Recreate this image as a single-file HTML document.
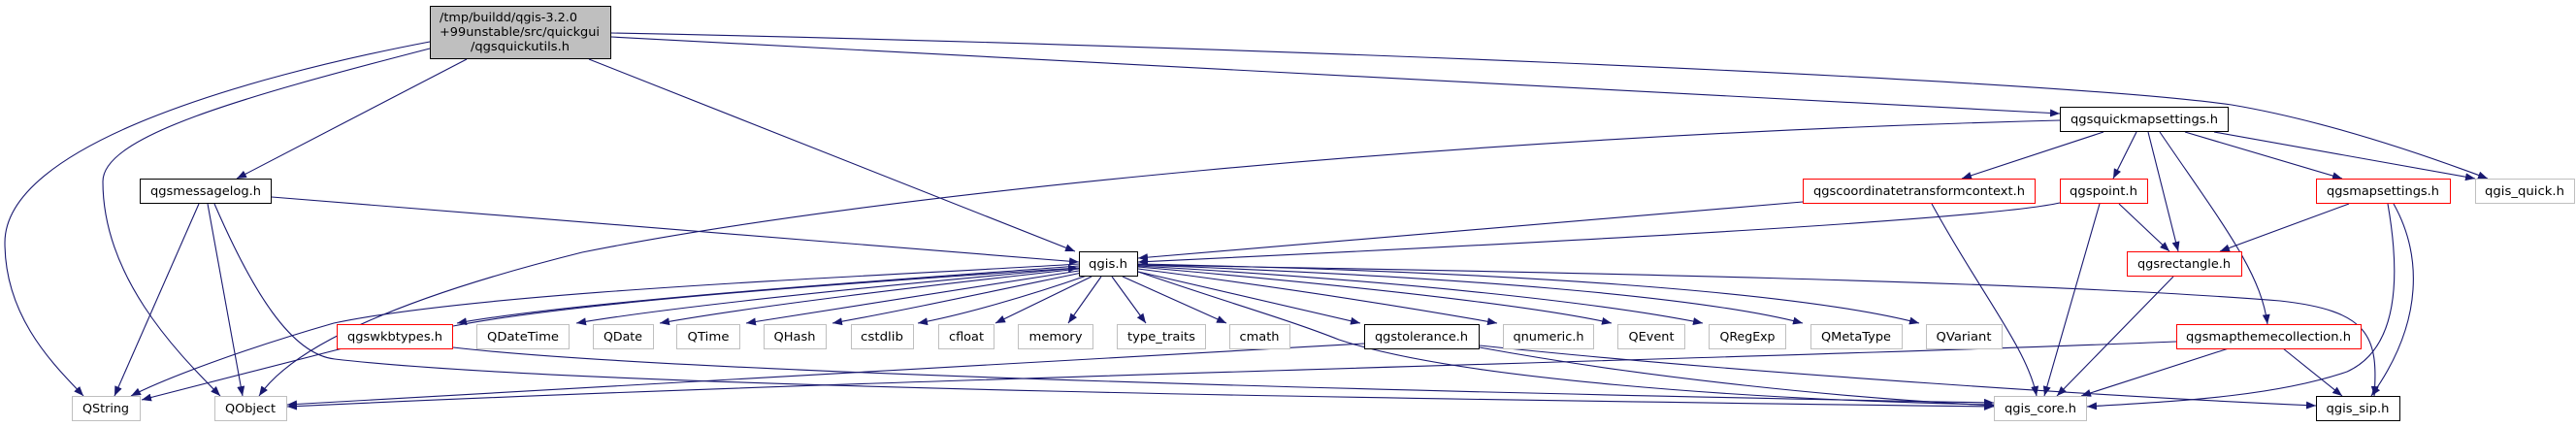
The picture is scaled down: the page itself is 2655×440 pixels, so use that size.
<!DOCTYPE html>
<html><head><meta charset="utf-8"><style>
html,body{margin:0;padding:0;background:#fff;width:2655px;height:440px;overflow:hidden}
svg text{font-family:"DejaVu Sans","Liberation Sans",sans-serif;font-size:12px;fill:#000}
</style></head><body>
<svg width="2655" height="440" viewBox="0 0 2655 440" xmlns="http://www.w3.org/2000/svg">
<defs><marker id="a" markerUnits="userSpaceOnUse" markerWidth="11" markerHeight="8" refX="10" refY="4" orient="auto"><path d="M0,0 L10,4 L0,8 z" fill="#191970"/></marker></defs>
<g fill="none" stroke="#191970" stroke-width="1.1" marker-end="url(#a)">
<!-- top node -->
<path d="M443,43 C250,80 5,150 5,250 C5,330 60,380 86,408"/>
<path d="M443,50 C250,100 106,140 106,187 C106,290 190,370 227,408"/>
<path d="M481,61 L244,184"/>
<path d="M607,61 L1108,259"/>
<path d="M630,38 L2123,117"/>
<path d="M630,34 C1200,45 2100,80 2300,108 C2400,125 2500,160 2564,184"/>
<!-- messagelog -->
<path d="M280,203 L1112,270"/>
<path d="M205,210 L118,408"/>
<path d="M214,210 L250,408"/>
<path d="M221,210 C260,300 300,365 345,370 C600,400 1500,412 2055,419"/>
<!-- quickmapsettings -->
<path d="M2123,124 C1500,140 900,200 600,260 C400,310 300,360 267,408"/>
<path d="M2168,136 L2022,184"/>
<path d="M2202,136 L2178,184"/>
<path d="M2214,136 L2245,259"/>
<path d="M2226,136 C2290,230 2330,280 2337,334"/>
<path d="M2252,136 L2414,184"/>
<path d="M2282,136 L2551,184"/>
<!-- coordctx -->
<path d="M1858,208 L1173,266"/>
<path d="M1991,210 C2040,300 2090,360 2099,408"/>
<!-- qgspoint -->
<path d="M2123,209 C2050,225 1700,245 1173,270"/>
<path d="M2184,210 L2236,259"/>
<path d="M2164,210 L2107,408"/>
<!-- qgsmapsettings -->
<path d="M2421,210 L2288,259"/>
<path d="M2461,210 C2475,290 2470,360 2419,383 C2340,410 2230,414 2151,419"/>
<path d="M2467,210 C2495,260 2500,330 2444,408"/>
<!-- rectangle -->
<path d="M2240,285 L2120,408"/>
<!-- mapthemecollection -->
<path d="M2243,352 C1800,370 900,390 296,419"/>
<path d="M2297,359 L2145,408"/>
<path d="M2353,359 L2414,408"/>
<!-- qgis.h -->
<path d="M1112,272 C900,285 500,300 344,333 C250,360 170,390 135,408"/>
<path d="M1112,274 C900,290 600,310 471,333"/>
<path d="M467,336 C600,310 900,290 1111,276"/>
<path d="M1112,276 C900,295 700,315 594,333"/>
<path d="M1112,277 C950,295 780,315 680,333"/>
<path d="M1112,279 C980,300 850,320 769,333"/>
<path d="M1115,281 C1000,305 920,322 858,333"/>
<path d="M1120,284 C1060,305 990,325 946,333"/>
<path d="M1125,285 L1026,333"/>
<path d="M1135,285 L1101,333"/>
<path d="M1146,285 L1181,333"/>
<path d="M1157,285 L1264,333"/>
<path d="M1173,280 L1402,333"/>
<path d="M1173,277 C1350,300 1470,320 1543,333"/>
<path d="M1173,275 C1400,295 1580,315 1661,333"/>
<path d="M1173,274 C1450,290 1650,312 1755,333"/>
<path d="M1173,273 C1500,285 1750,305 1858,333"/>
<path d="M1173,272 C1550,280 1850,300 1978,333"/>
<path d="M1173,280 C1260,310 1330,330 1380,350 C1500,390 1800,412 2055,417"/>
<path d="M1173,273 C1600,280 2100,290 2350,310 C2440,320 2452,345 2447,408"/>
<!-- wkbtypes -->
<path d="M353,359 L146,412"/>
<path d="M467,358 C700,385 1500,405 2055,415"/>
<!-- tolerance -->
<path d="M1406,354 C1000,375 600,400 296,417"/>
<path d="M1525,358 C1700,390 1900,410 2055,418"/>
<path d="M1525,356 C1800,385 2200,410 2387,418"/>
</g>
<g stroke-width="1">
<rect x="443.5" y="6.5" width="186" height="54" fill="#bfbfbf" stroke="#000"/>
<rect x="144.5" y="184.5" width="135" height="25" fill="#fff" stroke="#000"/>
<rect x="1858.5" y="184.5" width="239" height="25" fill="#fff" stroke="#f00"/>
<rect x="2123.5" y="184.5" width="90" height="25" fill="#fff" stroke="#f00"/>
<rect x="2387.5" y="184.5" width="138" height="25" fill="#fff" stroke="#f00"/>
<rect x="2551.5" y="184.5" width="102" height="25" fill="#fff" stroke="#bfbfbf"/>
<rect x="2123.5" y="110.5" width="173" height="25" fill="#fff" stroke="#000"/>
<rect x="1112.5" y="259.5" width="60" height="25" fill="#fff" stroke="#000"/>
<rect x="2192.5" y="259.5" width="118" height="25" fill="#fff" stroke="#f00"/>
<rect x="347.5" y="334.5" width="119" height="25" fill="#fff" stroke="#f00"/>
<rect x="491.5" y="334.5" width="95" height="25" fill="#fff" stroke="#bfbfbf"/>
<rect x="611.5" y="334.5" width="62" height="25" fill="#fff" stroke="#bfbfbf"/>
<rect x="697.5" y="334.5" width="65" height="25" fill="#fff" stroke="#bfbfbf"/>
<rect x="787.5" y="334.5" width="64" height="25" fill="#fff" stroke="#bfbfbf"/>
<rect x="877.5" y="334.5" width="64" height="25" fill="#fff" stroke="#bfbfbf"/>
<rect x="967.5" y="334.5" width="57" height="25" fill="#fff" stroke="#bfbfbf"/>
<rect x="1049.5" y="334.5" width="77" height="25" fill="#fff" stroke="#bfbfbf"/>
<rect x="1151.5" y="334.5" width="91" height="25" fill="#fff" stroke="#bfbfbf"/>
<rect x="1267.5" y="334.5" width="62" height="25" fill="#fff" stroke="#bfbfbf"/>
<rect x="1406.5" y="334.5" width="118" height="25" fill="#fff" stroke="#000"/>
<rect x="1549.5" y="334.5" width="93" height="25" fill="#fff" stroke="#bfbfbf"/>
<rect x="1667.5" y="334.5" width="69" height="25" fill="#fff" stroke="#bfbfbf"/>
<rect x="1761.5" y="334.5" width="79" height="25" fill="#fff" stroke="#bfbfbf"/>
<rect x="1866.5" y="334.5" width="94" height="25" fill="#fff" stroke="#bfbfbf"/>
<rect x="1985.5" y="334.5" width="78" height="25" fill="#fff" stroke="#bfbfbf"/>
<rect x="2243.5" y="334.5" width="190" height="25" fill="#fff" stroke="#f00"/>
<rect x="74.5" y="408.5" width="70" height="25" fill="#fff" stroke="#bfbfbf"/>
<rect x="221.5" y="408.5" width="74" height="25" fill="#fff" stroke="#bfbfbf"/>
<rect x="2055.5" y="408.5" width="95" height="25" fill="#fff" stroke="#bfbfbf"/>
<rect x="2387.5" y="408.5" width="86" height="25" fill="#fff" stroke="#000"/>
</g>
<g>
<text x="453" y="22" textLength="142" lengthAdjust="spacingAndGlyphs">/tmp/buildd/qgis-3.2.0</text>
<text x="453" y="37" textLength="165" lengthAdjust="spacingAndGlyphs">+99unstable/src/quickgui</text>
<text x="485" y="52" textLength="102" lengthAdjust="spacingAndGlyphs">/qgsquickutils.h</text>
</g>
<g text-anchor="middle">
<text x="212" y="201" textLength="114" lengthAdjust="spacingAndGlyphs">qgsmessagelog.h</text>
<text x="1978" y="201" textLength="218" lengthAdjust="spacingAndGlyphs">qgscoordinatetransformcontext.h</text>
<text x="2168" y="201" textLength="70" lengthAdjust="spacingAndGlyphs">qgspoint.h</text>
<text x="2456" y="201" textLength="116" lengthAdjust="spacingAndGlyphs">qgsmapsettings.h</text>
<text x="2602" y="201" textLength="82" lengthAdjust="spacingAndGlyphs">qgis_quick.h</text>
<text x="2210" y="127" textLength="152" lengthAdjust="spacingAndGlyphs">qgsquickmapsettings.h</text>
<text x="1142" y="276" textLength="40" lengthAdjust="spacingAndGlyphs">qgis.h</text>
<text x="2251" y="276" textLength="96" lengthAdjust="spacingAndGlyphs">qgsrectangle.h</text>
<text x="407" y="351" textLength="98" lengthAdjust="spacingAndGlyphs">qgswkbtypes.h</text>
<text x="539" y="351" textLength="74" lengthAdjust="spacingAndGlyphs">QDateTime</text>
<text x="642" y="351" textLength="40" lengthAdjust="spacingAndGlyphs">QDate</text>
<text x="730" y="351" textLength="43" lengthAdjust="spacingAndGlyphs">QTime</text>
<text x="819" y="351" textLength="43" lengthAdjust="spacingAndGlyphs">QHash</text>
<text x="909" y="351" textLength="44" lengthAdjust="spacingAndGlyphs">cstdlib</text>
<text x="996" y="351" textLength="36" lengthAdjust="spacingAndGlyphs">cfloat</text>
<text x="1088" y="351" textLength="55" lengthAdjust="spacingAndGlyphs">memory</text>
<text x="1197" y="351" textLength="70" lengthAdjust="spacingAndGlyphs">type_traits</text>
<text x="1298" y="351" textLength="41" lengthAdjust="spacingAndGlyphs">cmath</text>
<text x="1465" y="351" textLength="96" lengthAdjust="spacingAndGlyphs">qgstolerance.h</text>
<text x="1596" y="351" textLength="73" lengthAdjust="spacingAndGlyphs">qnumeric.h</text>
<text x="1702" y="351" textLength="47" lengthAdjust="spacingAndGlyphs">QEvent</text>
<text x="1801" y="351" textLength="57" lengthAdjust="spacingAndGlyphs">QRegExp</text>
<text x="1913" y="351" textLength="72" lengthAdjust="spacingAndGlyphs">QMetaType</text>
<text x="2024" y="351" textLength="57" lengthAdjust="spacingAndGlyphs">QVariant</text>
<text x="2338" y="351" textLength="170" lengthAdjust="spacingAndGlyphs">qgsmapthemecollection.h</text>
<text x="109" y="425" textLength="48" lengthAdjust="spacingAndGlyphs">QString</text>
<text x="258" y="425" textLength="52" lengthAdjust="spacingAndGlyphs">QObject</text>
<text x="2103" y="425" textLength="74" lengthAdjust="spacingAndGlyphs">qgis_core.h</text>
<text x="2430" y="425" textLength="65" lengthAdjust="spacingAndGlyphs">qgis_sip.h</text>
</g>
</svg>
</body></html>
